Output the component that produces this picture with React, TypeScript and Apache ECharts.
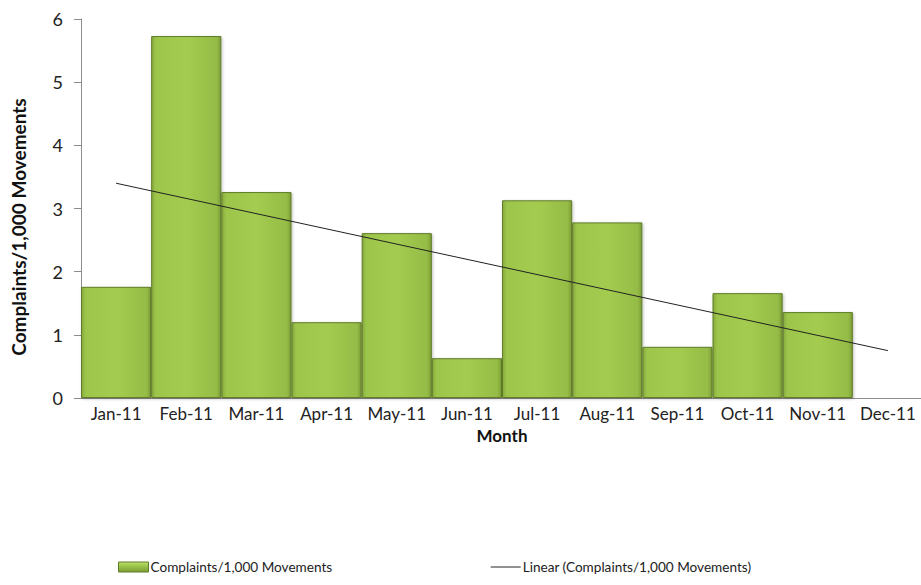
import React, { useEffect, useRef } from "react";
import * as echarts from "echarts";

const months = ["Jan-11", "Feb-11", "Mar-11", "Apr-11", "May-11", "Jun-11", "Jul-11", "Aug-11", "Sep-11", "Oct-11", "Nov-11", "Dec-11"];
const complaints = [1.76, 5.73, 3.26, 1.2, 2.61, 0.63, 3.13, 2.78, 0.81, 1.66, 1.36, null];
const trendStart = 3.4;
const trendEnd = 0.75;
const yTicks = [0, 1, 2, 3, 4, 5, 6];

const seriesName = "Complaints/1,000 Movements";
const trendName = "Linear (Complaints/1,000 Movements)";
const FONT = "Lato, 'Noto Sans', sans-serif";

export default function App() {
  const ref = useRef<HTMLDivElement>(null);
  useEffect(() => {
    if (!ref.current) return;
    const chart = echarts.init(ref.current, undefined, { renderer: "svg" });
    const trendData = months.map((m, i) => (i === 0 ? trendStart : i === months.length - 1 ? trendEnd : null));
    const barGrad = new echarts.graphic.LinearGradient(0, 0, 1, 0, [
      { offset: 0, color: "#86a83c" },
      { offset: 0.06, color: "#9cc54b" },
      { offset: 0.5, color: "#a3cc50" },
      { offset: 0.94, color: "#95bc46" },
      { offset: 1, color: "#7c9c36" },
    ]);
    const legendGrad = new echarts.graphic.LinearGradient(0, 0, 0, 1, [
      { offset: 0, color: "#c2e27a" },
      { offset: 0.3, color: "#a3cc50" },
      { offset: 1, color: "#7c9c36" },
    ]);
    chart.setOption({
      animation: false,
      textStyle: { fontFamily: FONT },
      grid: { left: 81, right: -2, top: 19, bottom: 187, containLabel: false, outerBoundsMode: "none" },
      legend: {
        left: 118,
        top: 560,
        padding: 0,
        itemGap: 158,
        itemWidth: 30,
        itemHeight: 10,
        textStyle: { fontFamily: FONT, fontSize: 13.6, color: "#222", padding: [0, 0, 0, -3] },
        data: [
          { name: seriesName, icon: "rect", itemStyle: { color: legendGrad, borderColor: "#5f7c27", borderWidth: 1 } },
          { name: trendName, itemStyle: { opacity: 0 }, lineStyle: { color: "#222", width: 1 } },
        ],
      },
      graphic: [
        {
          type: "text",
          x: 18,
          y: 227,
          rotation: Math.PI / 2,
          style: {
            text: seriesName,
            fontFamily: FONT,
            fontWeight: "bold",
            fontSize: 19,
            fill: "#111",
            align: "center",
            verticalAlign: "middle",
          },
        },
      ],
      xAxis: {
        type: "category",
        data: months,
        name: "Month",
        nameLocation: "middle",
        nameGap: 29,
        nameMoveOverlap: false,
        nameTextStyle: { fontFamily: FONT, fontWeight: "bold", fontSize: 17, color: "#111" },
        axisLine: { lineStyle: { color: "#8c8c8c", width: 1 } },
        axisTick: { show: false },
        axisLabel: { fontFamily: FONT, fontSize: 17, color: "#222", margin: 7, interval: 0 },
      },
      yAxis: {
        type: "value",
        min: yTicks[0],
        max: yTicks[yTicks.length - 1],
        interval: 1,
        axisLine: { show: true, lineStyle: { color: "#8c8c8c", width: 1 } },
        axisTick: { show: true, length: 7, lineStyle: { color: "#8c8c8c" } },
        splitLine: { show: false },
        axisLabel: { fontFamily: FONT, fontSize: 18, color: "#222", margin: 18 },
      },
      series: [
        {
          name: seriesName,
          type: "bar",
          data: complaints,
          barWidth: "100%",
          barCategoryGap: "0%",
          itemStyle: {
            color: barGrad,
            borderColor: "#5f7c27",
            borderWidth: 1,
            shadowColor: "rgba(0,0,0,0.25)",
            shadowBlur: 3,
            shadowOffsetX: 1,
            shadowOffsetY: 1,
          },
        },
        {
          name: trendName,
          type: "line",
          data: trendData,
          connectNulls: true,
          symbol: "none",
          itemStyle: { color: "#222" },
          lineStyle: { color: "#222", width: 1 },
          z: 5,
        },
      ],
    });
    return () => chart.dispose();
  }, []);
  return <div ref={ref} style={{ width: 921, height: 585, position: "absolute", left: 0, top: 0 }} />;
}
